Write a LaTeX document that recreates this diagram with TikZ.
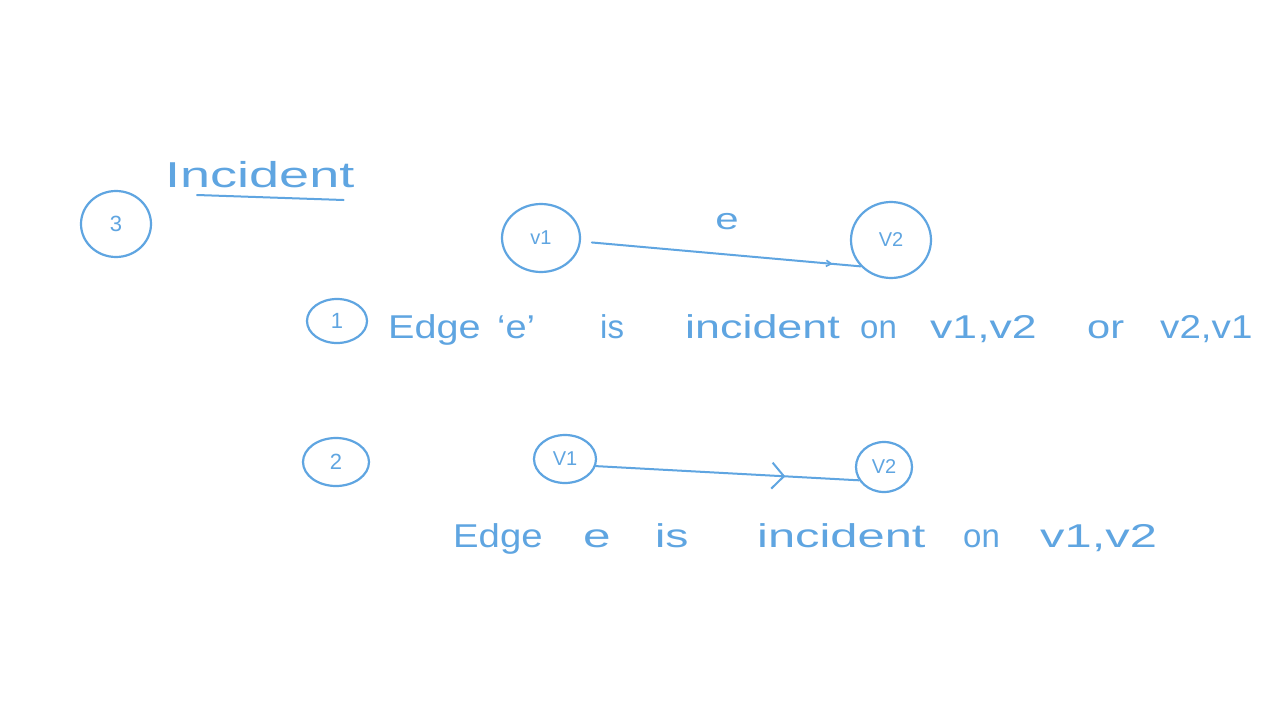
\documentclass[tikz,border=0pt]{standalone}
\usepackage{fontspec}
\setmainfont{Liberation Sans}
\usetikzlibrary{shapes.geometric,arrows.meta,decorations.markings}
\definecolor{ink}{RGB}{95,165,225}
\newcommand\hw[2]{\scalebox{#1}[1]{#2}}
\begin{document}
\begin{tikzpicture}[x=1pt,y=-1pt,
  every node/.style={text=ink},
  vert/.style={draw=ink, line width=2.2pt, ellipse, inner sep=0pt, font=\fontsize{20}{24}\selectfont},
  numc/.style={vert, font=\fontsize{22}{26}\selectfont},
  word/.style={anchor=base west, inner sep=0pt, font=\fontsize{33}{40}\selectfont},
  edgeline/.style={draw=ink, line width=2pt, line cap=round, line join=round},
]
\fill[white] (0,0) rectangle (1280,720);
\useasboundingbox (0,0) rectangle (1280,720);

% title
\node[word, font=\fontsize{36}{42}\selectfont] (inc) at (165,187) {\hw{1.5}{Incident}};
\draw[edgeline] ([xshift=32pt,yshift=-8pt]inc.base west) -- ([xshift=-11pt,yshift=-13pt]inc.base east);

% numbered circles
\node[numc, minimum width=70pt, minimum height=66pt] (c3) at (116,224) {3};
\node[numc, minimum width=60pt, minimum height=44pt] (c1) at (337,321) {1};
\node[numc, minimum width=66pt, minimum height=48pt] (c2) at (336,462) {2};

% top graph
\node[vert, minimum width=78pt, minimum height=68pt] (a1) at (541,238) {v1};
\node[vert, minimum width=80pt, minimum height=76pt] (a2) at (891,240) {V2};
\draw[edgeline, shorten <=11pt, postaction={decorate},
  decoration={markings, mark=at position 0.9 with {\arrow[ink, line width=1.6pt]{Straight Barb[length=5pt,width=6pt]}}}]
  (a1.-5) -- (a2.221);
\node[font=\fontsize{30}{36}\selectfont] (e1) at (727,222) {\hw{1.4}{e}};

% sentence 1
\node[word] (w1) at (388,338) {\hw{1.2}{Edge}};
\node[word] (w2) at (497,338) {\hw{1.15}{`e'}};
\node[word] (w3) at (600,338) {\hw{1.0}{is}};
\node[word] (w4) at (685,338) {\hw{1.36}{incident}};
\node[word] (w5) at (860,338) {\hw{1.0}{on}};
\node[word] (w6) at (930,338) {\hw{1.35}{v1,v2}};
\node[word] (w7) at (1087,338) {\hw{1.26}{or}};
\node[word] (w8) at (1160,338) {\hw{1.17}{v2,v1}};

% bottom graph
\node[vert, minimum width=62pt, minimum height=48pt] (b1) at (565,459) {V1};
\node[vert, minimum width=56pt, minimum height=50pt] (b2) at (884,467) {V2};
\draw[edgeline, postaction={decorate},
  decoration={markings, mark=at position 0.72 with {\arrow[ink, line width=2pt]{Straight Barb[length=12pt,width=26pt]}}}]
  (b1.-13) -- (b2.208);

% sentence 2
\node[word] (u1) at (453,547) {\hw{1.16}{Edge}};
\node[word] (u2) at (583,547) {\hw{1.5}{e}};
\node[word] (u3) at (655,547) {\hw{1.4}{is}};
\node[word] (u4) at (757,547) {\hw{1.48}{incident}};
\node[word] (u5) at (963,547) {\hw{1.0}{on}};
\node[word] (u6) at (1040,547) {\hw{1.48}{v1,v2}};
\end{tikzpicture}
\end{document}
